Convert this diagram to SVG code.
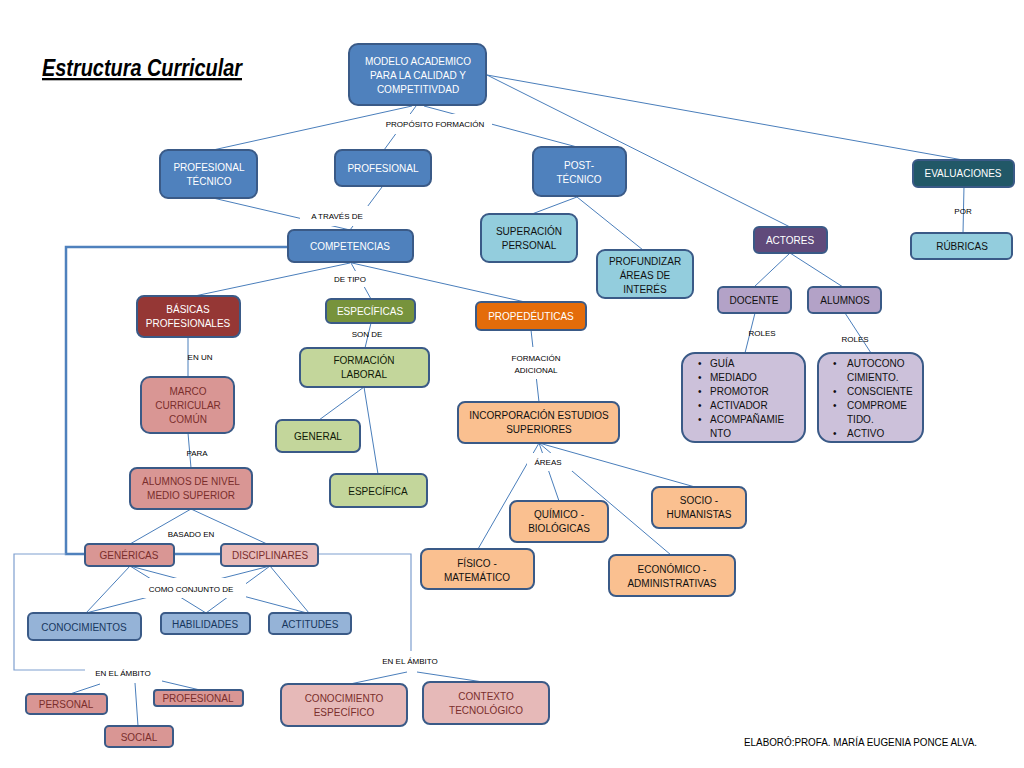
<svg xmlns="http://www.w3.org/2000/svg" width="1024" height="768" viewBox="0 0 1024 768">
<style>
.t{font-family:"Liberation Sans",Arial,sans-serif;font-size:10px;text-anchor:middle}
.l{font-family:"Liberation Sans",Arial,sans-serif;font-size:8px;text-anchor:middle;fill:#000}
.n rect{stroke:#3a5a87;stroke-width:2}
.c path{stroke:#4a7ebb;stroke-width:1;fill:none}
.w{fill:#fff}
.blue rect{fill:#4f81bd}.blue text{fill:#fff}
.lb rect{fill:#93cddd}.lb text{fill:#101010}
.teal rect{fill:#215867}.teal text{fill:#fff}
.pur rect{fill:#604a7b}.pur text{fill:#fff}
.lp rect{fill:#b3a2c7}.lp text{fill:#101010}
.llp rect{fill:#ccc1da}.llp text{fill:#101010;text-anchor:start}
.red rect{fill:#953735}.red text{fill:#fff}
.olive rect{fill:#77933c}.olive text{fill:#fff}
.or rect{fill:#e46c0a}.or text{fill:#fff}
.lg rect{fill:#c3d69b}.lg text{fill:#101a08}
.pk rect{fill:#d99694}.pk text{fill:#7a2e2c}
.lpk rect{fill:#e6b9b8}.lpk text{fill:#7a2e2c}
.lo rect{fill:#fac090}.lo text{fill:#101010}
.sb rect{fill:#95b3d7}.sb text{fill:#17375e}
</style>
<rect width="1024" height="768" fill="#fff"/>
<text x="42" y="76" font-family="Liberation Sans,Arial,sans-serif" font-size="23" font-weight="bold" font-style="italic" text-decoration="underline" textLength="200" lengthAdjust="spacingAndGlyphs" fill="#000">Estructura Curricular</text>

<g id="connectors" class="c">
<path d="M412,106 L213,150"/>
<path d="M416,106 L384,150"/>
<path d="M424,106 L577,147"/>
<path d="M487,75 L790,227"/>
<path d="M487,75 L963,160"/>
<path d="M213,198 L350,230"/>
<path d="M382,187 L350,230"/>
<path d="M577,197 L532,214"/>
<path d="M577,197 L643,250"/>
<path d="M790,253 L754,287"/>
<path d="M790,253 L843,287"/>
<path d="M755,313 L745,353"/>
<path d="M845,313 L871,353"/>
<path d="M964,186 L963,233"/>
<path d="M350,263 L190,297"/>
<path d="M351,263 L371,299"/>
<path d="M352,263 L525,302"/>
<path d="M188,337 L188,377"/>
<path d="M188,433 L191,468"/>
<path d="M371,323 L365,348"/>
<path d="M364,387 L319,420"/>
<path d="M364,387 L378,474"/>
<path d="M531,330 L539,402"/>
<path d="M539,443 L478,549"/>
<path d="M539,443 L559,501"/>
<path d="M539,443 L671,555"/>
<path d="M539,443 L695,487"/>
<path d="M191,509 L130,544"/>
<path d="M191,509 L267,544"/>
<path d="M130,566 L86,613"/>
<path d="M130,566 L206,613"/>
<path d="M130,566 L307,613"/>
<path d="M270,566 L86,613"/>
<path d="M270,566 L206,613"/>
<path d="M270,566 L309,613"/>
<path d="M288,247 H66 V554 H85 M174,554 H221" style="stroke:#4f81bd;stroke-width:2.5"/>
<path d="M66,554 H14 V670 H85 M318,554 H411 V651" style="stroke:#7f9fcf;stroke-width:1.2"/>
<path d="M100,684 L70,694 M135,683 L138,726 M162,681 L200,690 M407,672 L350,684 M417,672 L483,682"/>
</g>

<g id="labels">
<rect class="w" x="383" y="114" width="109" height="20"/><text class="l" x="435" y="127">PROPÓSITO FORMACIÓN</text>
<rect class="w" x="300" y="206" width="72" height="20"/><text class="l" x="337" y="219">A TRAVÉS DE</text>
<rect class="w" x="331" y="271" width="37" height="16"/><text class="l" x="350" y="282">DE TIPO</text>
<text class="l" x="367" y="337">SON DE</text>
<text class="l" x="200" y="360">EN UN</text>
<text class="l" x="197" y="456">PARA</text>
<rect class="w" x="508" y="347" width="57" height="32"/><text class="l" x="536" y="361">FORMACIÓN</text><text class="l" x="536" y="373">ADICIONAL</text>
<rect class="w" x="527" y="453" width="45" height="18"/><text class="l" x="548" y="465">ÁREAS</text>
<text class="l" x="762" y="336">ROLES</text>
<text class="l" x="855" y="342">ROLES</text>
<text class="l" x="963" y="214">POR</text>
<text class="l" x="191" y="537">BASADO EN</text>
<rect class="w" x="141" y="578" width="105" height="20"/><text class="l" x="191" y="592">COMO CONJUNTO DE</text>
<text class="l" x="123" y="676">EN EL ÁMBITO</text>
<text class="l" x="410" y="664">EN EL ÁMBITO</text>
</g>

<g id="modelo" class="n blue"><rect x="349" y="44" width="137" height="61" rx="9"/><text class="t" x="418" y="65">MODELO ACADEMICO</text><text class="t" x="418" y="79">PARA LA CALIDAD Y</text><text class="t" x="418" y="93">COMPETITIVDAD</text></g>
<g id="prof-tecnico" class="n blue"><rect x="160" y="150" width="97" height="48" rx="8"/><text class="t" x="209" y="171">PROFESIONAL</text><text class="t" x="209" y="185">TÉCNICO</text></g>
<g id="profesional" class="n blue"><rect x="335" y="150" width="96" height="36" rx="7"/><text class="t" x="383" y="172">PROFESIONAL</text></g>
<g id="post-tecnico" class="n blue"><rect x="533" y="147" width="93" height="49" rx="8"/><text class="t" x="579" y="169">POST-</text><text class="t" x="579" y="183">TÉCNICO</text></g>
<g id="evaluaciones" class="n teal"><rect x="913" y="160" width="101" height="27" rx="5"/><text class="t" x="963" y="177">EVALUACIONES</text></g>
<g id="rubricas" class="n lb"><rect x="911" y="233" width="101" height="26" rx="5"/><text class="t" x="962" y="250">RÚBRICAS</text></g>
<g id="superacion" class="n lb"><rect x="481" y="214" width="96" height="48" rx="8"/><text class="t" x="529" y="235">SUPERACIÓN</text><text class="t" x="529" y="249">PERSONAL</text></g>
<g id="profundizar" class="n lb"><rect x="597" y="250" width="96" height="48" rx="8"/><text class="t" x="645" y="265">PROFUNDIZAR</text><text class="t" x="645" y="279">ÁREAS DE</text><text class="t" x="645" y="293">INTERÉS</text></g>
<g id="actores" class="n pur"><rect x="754" y="227" width="73" height="26" rx="5"/><text class="t" x="790" y="244">ACTORES</text></g>
<g id="docente" class="n lp"><rect x="718" y="287" width="73" height="26" rx="5"/><text class="t" x="754" y="304">DOCENTE</text></g>
<g id="alumnos" class="n lp"><rect x="808" y="287" width="73" height="26" rx="5"/><text class="t" x="845" y="304">ALUMNOS</text></g>
<g id="roles-docente" class="n llp"><rect x="682" y="353" width="123" height="89" rx="13"/>
<text class="t" x="698" y="367">•</text><text class="t" x="710" y="367">GUÍA</text>
<text class="t" x="698" y="381">•</text><text class="t" x="710" y="381">MEDIADO</text>
<text class="t" x="698" y="395">•</text><text class="t" x="710" y="395">PROMOTOR</text>
<text class="t" x="698" y="409">•</text><text class="t" x="710" y="409">ACTIVADOR</text>
<text class="t" x="698" y="423">•</text><text class="t" x="710" y="423">ACOMPAÑAMIE</text>
<text class="t" x="710" y="437">NTO</text></g>
<g id="roles-alumnos" class="n llp"><rect x="818" y="353" width="105" height="89" rx="13"/>
<text class="t" x="833" y="367">•</text><text class="t" x="847" y="367">AUTOCONO</text>
<text class="t" x="847" y="381">CIMIENTO.</text>
<text class="t" x="833" y="395">•</text><text class="t" x="847" y="395">CONSCIENTE</text>
<text class="t" x="833" y="409">•</text><text class="t" x="847" y="409">COMPROME</text>
<text class="t" x="847" y="423">TIDO.</text>
<text class="t" x="833" y="437">•</text><text class="t" x="847" y="437">ACTIVO</text></g>
<g id="competencias" class="n blue"><rect x="288" y="230" width="125" height="32" rx="6"/><text class="t" x="350" y="250">COMPETENCIAS</text></g>
<g id="basicas" class="n red"><rect x="137" y="296" width="103" height="41" rx="7"/><text class="t" x="188" y="313">BÁSICAS</text><text class="t" x="188" y="327">PROFESIONALES</text></g>
<g id="especificas" class="n olive"><rect x="326" y="299" width="89" height="24" rx="5"/><text class="t" x="370" y="315">ESPECÍFICAS</text></g>
<g id="propedeuticas" class="n or"><rect x="476" y="302" width="110" height="28" rx="5"/><text class="t" x="531" y="320">PROPEDÉUTICAS</text></g>
<g id="formacion-laboral" class="n lg"><rect x="300" y="348" width="129" height="39" rx="7"/><text class="t" x="364" y="364">FORMACIÓN</text><text class="t" x="364" y="378">LABORAL</text></g>
<g id="general" class="n lg"><rect x="276" y="420" width="84" height="32" rx="6"/><text class="t" x="318" y="440">GENERAL</text></g>
<g id="especifica" class="n lg"><rect x="330" y="474" width="97" height="33" rx="6"/><text class="t" x="378" y="495">ESPECÍFICA</text></g>
<g id="marco" class="n pk"><rect x="141" y="377" width="93" height="56" rx="9"/><text class="t" x="188" y="395">MARCO</text><text class="t" x="188" y="409">CURRICULAR</text><text class="t" x="188" y="423">COMÚN</text></g>
<g id="alumnos-nivel" class="n pk"><rect x="130" y="468" width="122" height="41" rx="7"/><text class="t" x="191" y="485">ALUMNOS DE NIVEL</text><text class="t" x="191" y="499">MEDIO SUPERIOR</text></g>
<g id="incorporacion" class="n lo"><rect x="458" y="402" width="161" height="41" rx="7"/><text class="t" x="539" y="419">INCORPORACIÓN ESTUDIOS</text><text class="t" x="539" y="433">SUPERIORES</text></g>
<g id="quimico" class="n lo"><rect x="510" y="501" width="98" height="41" rx="7"/><text class="t" x="559" y="518">QUÍMICO -</text><text class="t" x="559" y="532">BIOLÓGICAS</text></g>
<g id="socio" class="n lo"><rect x="652" y="487" width="94" height="41" rx="7"/><text class="t" x="699" y="504">SOCIO -</text><text class="t" x="699" y="518">HUMANISTAS</text></g>
<g id="fisico" class="n lo"><rect x="421" y="549" width="113" height="40" rx="7"/><text class="t" x="477" y="567">FÍSICO -</text><text class="t" x="477" y="581">MATEMÁTICO</text></g>
<g id="economico" class="n lo"><rect x="609" y="555" width="126" height="41" rx="7"/><text class="t" x="672" y="573">ECONÓMICO -</text><text class="t" x="672" y="587">ADMINISTRATIVAS</text></g>
<g id="genericas" class="n pk"><rect x="85" y="544" width="89" height="22" rx="4"/><text class="t" x="129" y="559">GENÉRICAS</text></g>
<g id="disciplinares" class="n lpk"><rect x="221" y="544" width="97" height="22" rx="4"/><text class="t" x="270" y="559">DISCIPLINARES</text></g>
<g id="conocimientos" class="n sb"><rect x="28" y="613" width="113" height="27" rx="5"/><text class="t" x="84" y="631">CONOCIMIENTOS</text></g>
<g id="habilidades" class="n sb"><rect x="161" y="613" width="89" height="21" rx="4"/><text class="t" x="205" y="628">HABILIDADES</text></g>
<g id="actitudes" class="n sb"><rect x="269" y="613" width="82" height="21" rx="4"/><text class="t" x="310" y="628">ACTITUDES</text></g>
<g id="personal" class="n pk"><rect x="26" y="694" width="81" height="20" rx="4"/><text class="t" x="66" y="708">PERSONAL</text></g>
<g id="profesional-ambito" class="n pk"><rect x="154" y="690" width="89" height="16" rx="3"/><text class="t" x="198" y="702">PROFESIONAL</text></g>
<g id="social" class="n pk"><rect x="105" y="726" width="68" height="21" rx="4"/><text class="t" x="139" y="741">SOCIAL</text></g>
<g id="conocimiento-especifico" class="n lpk"><rect x="281" y="684" width="126" height="42" rx="7"/><text class="t" x="344" y="702">CONOCIMIENTO</text><text class="t" x="344" y="716">ESPECÍFICO</text></g>
<g id="contexto" class="n lpk"><rect x="423" y="682" width="126" height="42" rx="7"/><text class="t" x="486" y="700">CONTEXTO</text><text class="t" x="486" y="714">TECNOLÓGICO</text></g>

<text x="744" y="746" font-family="Liberation Sans,Arial,sans-serif" font-size="10" textLength="233" lengthAdjust="spacingAndGlyphs" fill="#000">ELABORÓ:PROFA. MARÍA EUGENIA PONCE ALVA.</text>
</svg>
